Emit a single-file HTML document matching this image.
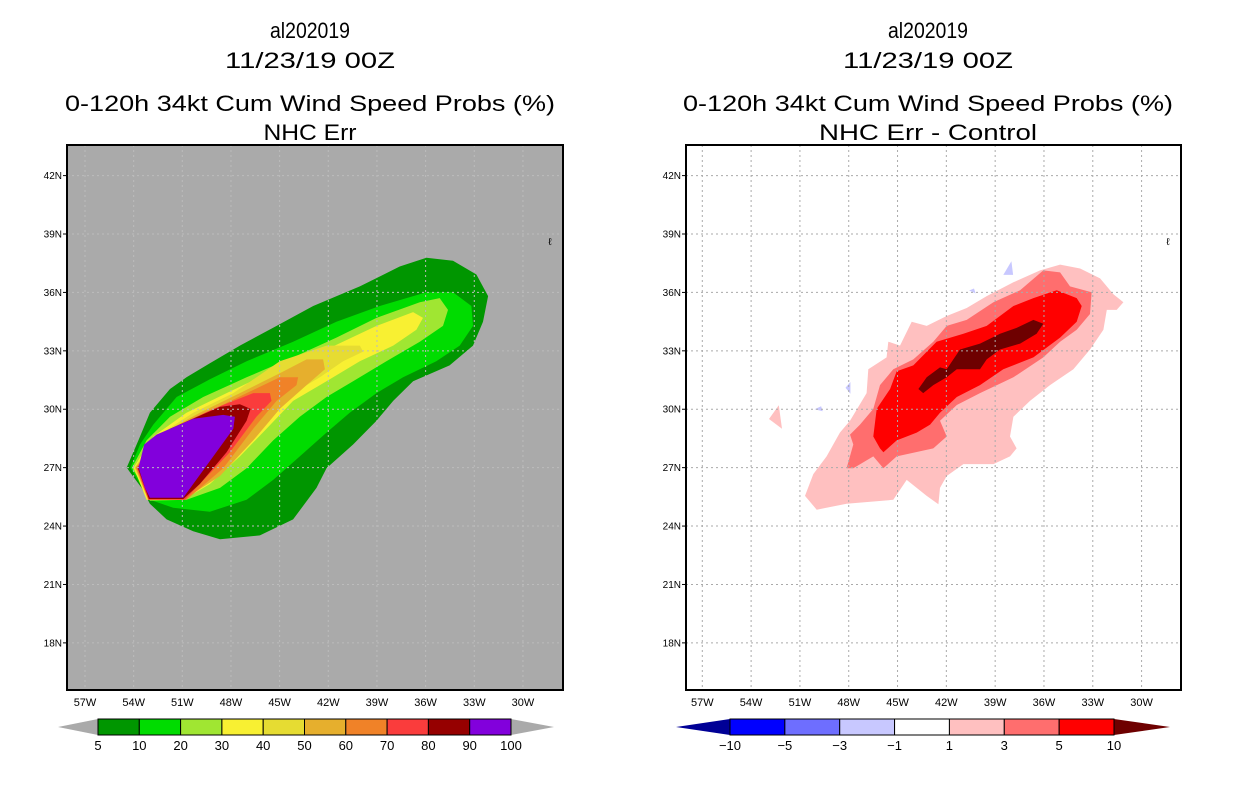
<!DOCTYPE html>
<html><head><meta charset="utf-8"><style>
body{margin:0;background:#fff;width:1236px;height:800px;overflow:hidden}
svg{display:block}
text{font-family:"Liberation Sans",sans-serif}
</style></head><body>
<svg id="fig" width="1236" height="800" viewBox="0 0 1236 800"></svg>
<script>
// ---------- data ----------
const lonTicks = [-57,-54,-51,-48,-45,-42,-39,-36,-33,-30];
const latTicks = [42,39,36,33,30,27,24,21,18];
const probLevels = [5,10,20,30,40,50,60,70,80,90,100];
const probColors = ["#009600","#00dc00","#a0e632","#f8f032","#e6dc32","#e6af2d","#f08228","#fa3c3c","#960000","#8200dc"];
const diffLevels = [-10,-5,-3,-1,1,3,5,10];
const diffColors = ["#0000ff","#6e6eff","#c8c8ff","#ffffff","#ffc0c0","#ff6e6e","#ff0000"];
const diffLow = "#000096", diffHigh = "#6e0000";
// left panel contour polygons [lon,lat], outermost first
const p5 = [[-54.43,27.0],[-53.71,28.4],[-53.0,29.82],[-51.76,31.04],[-50.74,31.64],[-49.3,32.36],[-47.45,33.27],[-45.19,34.28],[-42.93,35.3],[-40.06,36.31],[-37.6,37.33],[-35.95,37.78],[-34.31,37.63],[-32.87,36.92],[-32.15,35.81],[-32.46,34.49],[-33.08,33.27],[-34.52,32.25],[-36.77,31.44],[-38.0,30.43],[-39.03,29.41],[-40.47,28.19],[-42.11,26.97],[-42.73,25.96],[-44.17,24.34],[-46.22,23.52],[-48.68,23.32],[-50.33,23.73],[-51.97,24.34],[-53.0,25.15],[-53.51,25.96],[-54.23,26.77]];
const p10 = [[-54.2,27.0],[-53.61,28.19],[-52.79,29.21],[-51.35,30.63],[-49.3,31.54],[-47.04,32.46],[-44.17,33.47],[-41.5,34.49],[-38.83,35.3],[-35.95,36.01],[-34.31,36.01],[-33.18,35.3],[-33.08,34.28],[-33.9,33.27],[-35.34,32.46],[-37.39,31.64],[-39.03,30.83],[-40.68,29.82],[-42.11,28.8],[-43.76,27.58],[-45.4,26.37],[-47.04,25.35],[-49.3,24.74],[-51.56,24.94],[-53.0,25.35],[-53.61,26.16]];
const p20 = [[-54.1,27.0],[-53.2,28.4],[-51.76,29.61],[-49.71,30.63],[-47.04,31.64],[-44.17,32.66],[-41.5,33.68],[-39.03,34.69],[-36.36,35.5],[-35.13,35.71],[-34.62,35.1],[-34.93,34.28],[-36.36,33.47],[-38.42,32.46],[-40.47,31.44],[-42.11,30.63],[-43.76,29.61],[-45.4,28.4],[-47.04,26.97],[-48.68,25.96],[-50.74,25.35],[-53.0,25.3],[-53.51,26.16]];
const p30 = [[-54.0,27.0],[-52.79,28.6],[-50.74,29.82],[-48.27,30.83],[-45.19,32.05],[-42.11,33.07],[-39.03,34.28],[-36.77,34.99],[-36.16,34.69],[-36.57,34.08],[-38.0,33.27],[-40.06,32.46],[-42.11,31.44],[-44.17,30.43],[-45.81,29.0],[-47.45,27.58],[-49.3,26.16],[-50.94,25.35],[-53.2,25.35]];
const p40 = [[-53.95,27.0],[-52.59,28.6],[-50.33,29.82],[-47.86,30.83],[-44.99,32.46],[-42.11,33.27],[-40.06,33.27],[-39.85,32.96],[-41.09,32.46],[-42.52,31.64],[-44.17,30.83],[-45.81,29.61],[-47.45,27.99],[-49.3,26.37],[-50.94,25.35],[-53.1,25.35]];
const p50 = [[-53.9,27.0],[-52.38,28.7],[-49.92,29.82],[-47.45,30.83],[-44.99,31.85],[-43.34,32.56],[-42.32,32.56],[-42.21,32.05],[-43.34,31.24],[-44.99,30.02],[-46.63,28.4],[-48.68,26.57],[-50.94,25.35],[-53.1,25.35]];
const p60 = [[-53.85,27.0],[-52.17,28.8],[-49.5,29.82],[-47.04,30.83],[-44.99,31.64],[-43.86,31.64],[-43.96,31.24],[-45.19,30.43],[-46.63,29.0],[-48.48,26.97],[-50.74,25.35],[-53.1,25.35]];
const p70 = [[-53.8,27.0],[-51.97,28.9],[-49.09,30.02],[-46.63,30.83],[-45.6,30.83],[-45.5,30.43],[-46.43,29.61],[-48.07,27.79],[-49.92,26.16],[-50.84,25.35],[-53.1,25.35]];
const p80 = [[-53.75,27.0],[-51.76,29.0],[-48.68,30.12],[-47.45,30.26],[-46.79,30.02],[-47.04,29.41],[-48.27,27.79],[-49.92,26.16],[-50.94,25.39],[-53.06,25.39]];
const p90 = [[-53.7,27.0],[-53.35,28.19],[-52.59,28.7],[-50.33,29.51],[-48.48,29.71],[-47.76,29.61],[-47.86,29.0],[-49.09,27.58],[-50.33,26.16],[-50.94,25.45],[-53.0,25.45],[-53.3,25.96]];
// right panel difference polygons
const d1 = [[-50.69,25.55],[-50.18,26.67],[-49.36,27.58],[-48.54,28.8],[-47.92,29.41],[-46.9,30.83],[-46.8,32.05],[-45.67,32.66],[-45.57,33.47],[-44.85,33.27],[-44.13,34.49],[-43.21,34.28],[-41.98,34.79],[-40.75,35.2],[-39.52,35.81],[-37.88,36.52],[-36.24,37.13],[-35.01,37.43],[-33.78,37.23],[-32.55,36.72],[-31.73,35.91],[-31.12,35.5],[-31.53,35.1],[-32.14,35.1],[-32.35,34.08],[-33.17,33.07],[-34.19,32.05],[-35.63,31.24],[-36.86,30.43],[-37.88,29.61],[-38.09,28.6],[-37.68,27.99],[-38.09,27.58],[-39.11,27.18],[-40.95,27.18],[-41.98,26.57],[-42.39,25.96],[-42.49,25.12],[-43.21,25.55],[-44.44,26.37],[-45.26,25.35],[-48.13,25.15],[-49.97,24.84]];
const d3 = [[-48.13,26.97],[-47.72,28.19],[-47.92,28.7],[-47.31,29.21],[-46.49,30.02],[-46.08,31.24],[-45.26,32.05],[-44.03,32.56],[-42.8,33.47],[-41.98,34.28],[-40.75,34.59],[-39.11,35.5],[-37.47,36.11],[-36.04,37.13],[-35.01,37.03],[-34.4,36.31],[-33.07,36.01],[-33.17,34.89],[-33.99,34.08],[-35.01,33.47],[-36.04,32.66],[-37.88,31.64],[-39.93,30.83],[-41.36,30.22],[-42.39,29.41],[-41.98,28.6],[-42.8,27.99],[-45.05,27.58],[-45.87,26.97],[-46.49,27.58],[-47.72,26.97]];
const d5 = [[-46.08,27.99],[-46.49,28.6],[-46.28,30.02],[-45.46,31.04],[-45.05,31.95],[-44.03,32.25],[-42.6,33.47],[-40.95,33.88],[-39.52,34.28],[-37.88,35.3],[-36.65,35.71],[-35.22,36.11],[-33.99,35.71],[-33.68,35.3],[-33.99,34.49],[-35.01,33.68],[-36.65,32.66],[-38.5,32.05],[-39.93,31.24],[-41.36,30.63],[-42.39,29.82],[-43.0,29.21],[-43.82,28.8],[-45.05,28.4],[-45.87,27.79]];
const d10 = [[-43.72,31.04],[-43.21,31.64],[-42.39,32.15],[-41.98,32.05],[-41.16,33.07],[-39.93,33.37],[-38.7,33.88],[-37.68,34.18],[-36.65,34.59],[-36.04,34.39],[-36.45,33.88],[-37.47,33.37],[-38.7,33.07],[-39.52,32.56],[-39.93,32.05],[-41.36,32.05],[-41.98,31.64],[-42.8,31.24],[-43.42,30.83]];
const dPinkBlob = [[-52.9,29.5],[-52.3,30.2],[-52.1,29.0]];
const dBlueBlobs = [[[-38.5,36.9],[-38.0,37.6],[-37.9,36.9]],[[-48.2,31.1],[-47.9,31.4],[-47.9,30.8]],[[-50.1,30.0],[-49.7,30.15],[-49.6,29.9]],[[-40.6,36.1],[-40.3,36.2],[-40.2,35.95]]];

// ---------- helpers ----------
const NS="http://www.w3.org/2000/svg";
const svg=document.getElementById('fig');
function mk(tag,attrs,parent){const e=document.createElementNS(NS,tag);for(const k in attrs)e.setAttribute(k,attrs[k]);(parent||svg).appendChild(e);return e;}
function txt(s,x,y,size,anchor,parent,len){const t=mk('text',{x:x,y:y,'font-size':size,'text-anchor':anchor||'middle',fill:'#000'},parent);if(len){t.setAttribute('textLength',len);t.setAttribute('lengthAdjust','spacingAndGlyphs');}t.textContent=s;return t;}

function panel(x0,x1,lonX0,lonScale,bg,gridCol,name){
  const g=mk('g',{});
  
  
  const X=lon=>lonX0+(lon+57)*lonScale;
  const Y=lat=>175.6+(42-lat)*19.47;
  const clipId='clip'+name;
  const cp=mk('clipPath',{id:clipId},g);mk('rect',{x:x0,y:145,width:x1-x0,height:545},cp);
  const bgR=mk('rect',{x:x0,y:145,width:x1-x0,height:545,fill:bg},g);
  
  
  const fills=mk('g',{'clip-path':'url(#'+clipId+')'},g);
  return {g,X,Y,fills,x0,x1};
}
function poly(P,pts,color,name){
  const e=mk('polygon',{points:pts.map(p=>P.X(p[0]).toFixed(1)+','+P.Y(p[1]).toFixed(1)).join(' '),fill:color},P.fills);
  
  
}
function frame(P,gridCol){
  const gg=mk('g',{stroke:gridCol,'stroke-width':1,'stroke-dasharray':'2,3'},P.fills);
  
  
  lonTicks.forEach(l=>mk('line',{x1:P.X(l),x2:P.X(l),y1:145,y2:690},gg));
  latTicks.forEach(l=>mk('line',{x1:P.x0,x2:P.x1,y1:P.Y(l),y2:P.Y(l)},gg));
  const b=mk('rect',{x:P.x0,y:145,width:P.x1-P.x0,height:545,fill:'none',stroke:'#000','stroke-width':2},P.g);
  
  
  latTicks.forEach(l=>{
    mk('line',{x1:P.x0-4,x2:P.x0,y1:P.Y(l),y2:P.Y(l),stroke:'#000'},P.g);
    const t=txt(l+'N',P.x0-5,P.Y(l)+3.5,10,'end',P.g);
    
    
  });
  lonTicks.forEach(l=>{
    const t=txt((-l)+'W',P.X(l),706,11,'middle',P.g);
    
    
  });
  txt('ℓ',P.x1-13,245,10,'middle',P.g);
}

// ---------- titles ----------
function titles(cx,sub,subLen){
  const g=mk('g',{});
  
  
  txt('al202019',cx,38,22,'middle',g,80);
  txt('11/23/19 00Z',cx,68,22,'middle',g,170);
  txt('0-120h 34kt Cum Wind Speed Probs (%)',cx,111,22,'middle',g,490);
  txt(sub,cx,140,22,'middle',g,subLen);
}
titles(310,'NHC Err',93);
titles(928,'NHC Err - Control',218);

// ---------- left panel ----------
const L=panel(67,563,85,16.22,'#aaaaaa','#b8b8b8','left-map');
[p5,p10,p20,p30,p40,p50,p60,p70,p80,p90].forEach((p,i)=>poly(L,p,probColors[i],'prob-contour-'+probLevels[i]));
frame(L,'#bcbcbc');

// ---------- right panel ----------
const R=panel(686,1181,702.3,16.27,'#ffffff','#aaaaaa','right-map');
poly(R,d1,diffColors[4],'diff-contour-1');
poly(R,dPinkBlob,diffColors[4],'diff-blob-1');
poly(R,d3,diffColors[5],'diff-contour-3');
poly(R,d5,diffColors[6],'diff-contour-5');
poly(R,d10,diffHigh,'diff-contour-10');
dBlueBlobs.forEach(b=>poly(R,b,diffColors[2],'diff-blob-neg'));
frame(R,'#aaaaaa');

// ---------- colorbars ----------
function colorbar(x0,x1,tipL,tipR,levels,colors,lowCol,highCol,name,dashed){
  const g=mk('g',{});
  
  
  const n=colors.length,w=(x1-x0)/n,y0=719,y1=735,ym=727;
  mk('polygon',{points:`${tipL},${ym} ${x0},${y0} ${x0},${y1}`,fill:lowCol},g);
  mk('polygon',{points:`${tipR},${ym} ${x1},${y0} ${x1},${y1}`,fill:highCol},g);
  colors.forEach((c,i)=>{
    const r=mk('rect',{x:x0+i*w,y:y0,width:w,height:y1-y0,fill:c,stroke:'#000','stroke-width':1},g);
    
    
  });
  levels.forEach((v,i)=>{
    const t=txt(v<0?'−'+(-v):String(v),x0+i*w,750,13,'middle',g);
    
    
  });
}
colorbar(98,511,58,554,probLevels,probColors,'#aaaaaa','#aaaaaa','prob-colorbar');
colorbar(730,1114,676,1170,diffLevels,diffColors,diffLow,diffHigh,'diff-colorbar');
</script>
</body></html>
